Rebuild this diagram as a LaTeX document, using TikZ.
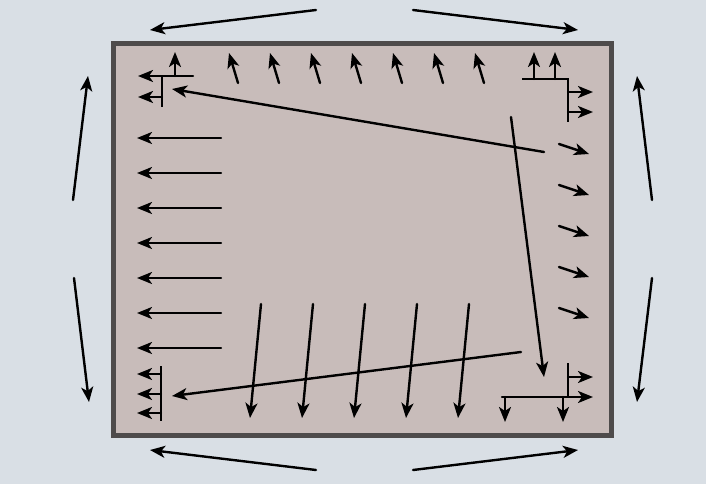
\documentclass[tikz,border=0pt]{standalone}
\usepackage{xcolor}
\usetikzlibrary{arrows.meta}
\definecolor{skyback}{HTML}{D9DFE5}
\definecolor{plate}{HTML}{C8BCBA}
\definecolor{rim}{HTML}{4E4B4B}
\tikzset{
	>={Stealth[length=15pt,width=12pt,inset=4pt]},
	flow/.style={->, line width=2.4pt, line cap=round},
	bar/.style={line width=2.4pt},
	plateedge/.style={line width=5pt, draw=rim, fill=plate}
}

\begin{document}
\begin{tikzpicture}[x=1pt, y=-1pt]
	\useasboundingbox[fill=skyback] (0,0) rectangle (706,484);
	\draw[plateedge] (113.5,43.5) rectangle (611.5,435.5);
	% outer arrows
	\coordinate (tA) at (316,10);  \coordinate (tB) at (150,30);
	\coordinate (tC) at (413,10);  \coordinate (tD) at (578,30);
	\coordinate (bA) at (316,470); \coordinate (bB) at (150,450);
	\coordinate (bC) at (413,470); \coordinate (bD) at (578,450);
	\coordinate (lA) at (73,200);  \coordinate (lB) at (88,76);
	\coordinate (lC) at (74,278);  \coordinate (lD) at (89,402);
	\coordinate (rA) at (652,200); \coordinate (rB) at (637,76);
	\coordinate (rC) at (652,278); \coordinate (rD) at (637,402);
	\draw[flow] (tA) -- (tB);
	\draw[flow] (tC) -- (tD);
	\draw[flow] (bA) -- (bB);
	\draw[flow] (bC) -- (bD);
	\draw[flow] (lA) -- (lB);
	\draw[flow] (lC) -- (lD);
	\draw[flow] (rA) -- (rB);
	\draw[flow] (rC) -- (rD);
	% arrow rows
	\foreach \x in {238,279,320,361,402,443,484}
		\draw[flow] (\x,83) -- (\x-9,53);
	\foreach \y in {144,185,226,267,308}
		\draw[flow] (559,\y) -- (589,\y+10);
	\foreach \y in {138,173,208,243,278,313,348}
		\draw[flow] (221,\y) -- (137,\y);
	\foreach \x in {261,313,365,417,469}
		\draw[flow] (\x,304) -- (\x-11,418);
	% corners
	\draw[flow] (193,76) -- (138,76);
	\draw[flow] (175,76) -- (175,52);
	\draw[bar] (162,76) -- (162,107);
	\draw[flow] (162,97) -- (138,97);
	\draw[bar] (522,79) -- (568,79) -- (568,122);
	\foreach \x in {534,555}
		\draw[flow] (\x,79) -- (\x,52);
	\foreach \y in {92,112}
		\draw[flow] (568,\y) -- (593,\y);
	\draw[bar] (161,366) -- (161,421);
	\foreach \y in {374,394,413}
		\draw[flow] (161,\y) -- (137,\y);
	\draw[flow] (502,397) -- (593,397);
	\draw[bar] (568,363) -- (568,397);
	\draw[flow] (568,377) -- (593,377);
	\foreach \x in {505,563}
		\draw[flow] (\x,397) -- (\x,422);
	% long arrows
	\coordinate (sA) at (544,152); \coordinate (sB) at (172,89);
	\coordinate (sC) at (511,117); \coordinate (sD) at (544,377);
	\coordinate (sE) at (521,352); \coordinate (sF) at (172,396);
	\draw[flow] (sA) -- (sB);
	\draw[flow] (sC) -- (sD);
	\draw[flow] (sE) -- (sF);
\end{tikzpicture}
\end{document}
